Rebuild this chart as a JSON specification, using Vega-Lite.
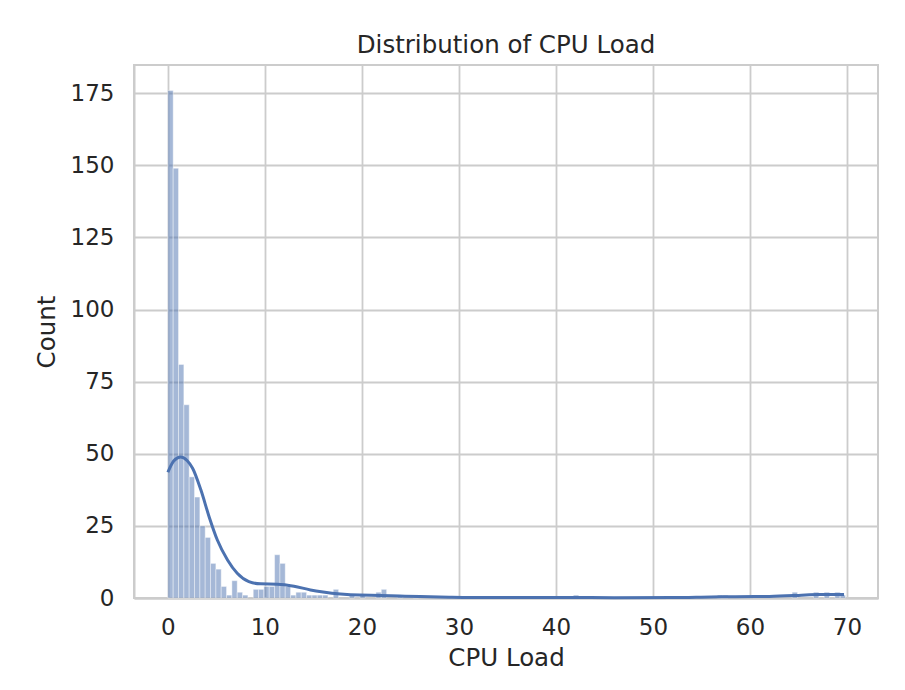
{
  "$schema": "https://vega.github.io/schema/vega-lite/v6.json",
  "width": 744,
  "height": 533,
  "autosize": {"type": "none"},
  "padding": {"left": 134, "top": 65, "right": 27, "bottom": 92},
  "background": "#ffffff",
  "title": {"text": "Distribution of CPU Load", "fontSize": 24.5, "font": "DejaVu Sans", "fontWeight": "normal", "color": "#262626", "offset": 7, "anchor": "middle"},
  "datasets": {
    "bins": [
      {"start": 0.0, "end": 0.55, "count": 176},
      {"start": 0.55, "end": 1.1, "count": 149},
      {"start": 1.1, "end": 1.65, "count": 81},
      {"start": 1.65, "end": 2.2, "count": 67},
      {"start": 2.2, "end": 2.75, "count": 42},
      {"start": 2.75, "end": 3.3, "count": 35},
      {"start": 3.3, "end": 3.85, "count": 25},
      {"start": 3.85, "end": 4.4, "count": 21},
      {"start": 4.4, "end": 4.95, "count": 12},
      {"start": 4.95, "end": 5.5, "count": 10},
      {"start": 5.5, "end": 6.05, "count": 4},
      {"start": 6.05, "end": 6.6, "count": 1},
      {"start": 6.6, "end": 7.15, "count": 6},
      {"start": 7.15, "end": 7.7, "count": 2},
      {"start": 7.7, "end": 8.25, "count": 1},
      {"start": 8.8, "end": 9.35, "count": 3},
      {"start": 9.35, "end": 9.9, "count": 3},
      {"start": 9.9, "end": 10.45, "count": 4},
      {"start": 10.45, "end": 11.0, "count": 4},
      {"start": 11.0, "end": 11.55, "count": 15},
      {"start": 11.55, "end": 12.1, "count": 12},
      {"start": 12.1, "end": 12.65, "count": 4},
      {"start": 12.65, "end": 13.2, "count": 1},
      {"start": 13.2, "end": 13.75, "count": 2},
      {"start": 13.75, "end": 14.3, "count": 2},
      {"start": 14.3, "end": 14.85, "count": 1},
      {"start": 14.85, "end": 15.4, "count": 1},
      {"start": 15.4, "end": 15.95, "count": 1},
      {"start": 15.95, "end": 16.5, "count": 1},
      {"start": 17.05, "end": 17.6, "count": 3},
      {"start": 18.7, "end": 19.25, "count": 1},
      {"start": 19.8, "end": 20.35, "count": 1},
      {"start": 21.45, "end": 22.0, "count": 2},
      {"start": 22.0, "end": 22.55, "count": 3},
      {"start": 23.65, "end": 24.2, "count": 1},
      {"start": 25.3, "end": 25.85, "count": 1},
      {"start": 41.8, "end": 42.35, "count": 1},
      {"start": 56.65, "end": 57.2, "count": 1},
      {"start": 57.2, "end": 57.75, "count": 1},
      {"start": 64.35, "end": 64.9, "count": 2},
      {"start": 66.55, "end": 67.1, "count": 2},
      {"start": 67.65, "end": 68.2, "count": 2},
      {"start": 68.75, "end": 69.3, "count": 2},
      {"start": 69.3, "end": 69.85, "count": 1}
    ],
    "kde": [
      {"load": 0.0, "density": 43.6},
      {"load": 0.6, "density": 47.5},
      {"load": 1.3, "density": 48.9},
      {"load": 2.0, "density": 47.6},
      {"load": 2.55, "density": 45.0},
      {"load": 3.4, "density": 37.5},
      {"load": 4.25, "density": 28.2},
      {"load": 5.1, "density": 20.1},
      {"load": 6.15, "density": 13.2},
      {"load": 7.15, "density": 8.6},
      {"load": 8.35, "density": 5.7},
      {"load": 9.55, "density": 4.9},
      {"load": 11.3, "density": 4.8},
      {"load": 13.0, "density": 4.1},
      {"load": 14.7, "density": 2.8},
      {"load": 16.0, "density": 2.1},
      {"load": 17.8, "density": 1.4},
      {"load": 19.8, "density": 1.0},
      {"load": 21.9, "density": 0.9},
      {"load": 23.9, "density": 0.7},
      {"load": 26.0, "density": 0.5},
      {"load": 29.0, "density": 0.3},
      {"load": 33.0, "density": 0.15},
      {"load": 38.0, "density": 0.15},
      {"load": 42.0, "density": 0.2},
      {"load": 46.0, "density": 0.1},
      {"load": 52.0, "density": 0.15},
      {"load": 56.0, "density": 0.35},
      {"load": 58.5, "density": 0.45},
      {"load": 62.0, "density": 0.55},
      {"load": 65.0, "density": 0.9},
      {"load": 67.0, "density": 1.2},
      {"load": 69.7, "density": 1.2}
    ]
  },
  "layer": [
    {
      "data": {"name": "bins"},
      "mark": {"type": "rect", "fill": "#4c72b0", "fillOpacity": 0.5, "stroke": "#ffffff", "strokeWidth": 0.7, "strokeOpacity": 0.6},
      "encoding": {
        "x": {"field": "start", "type": "quantitative", "scale": {"domain": [-3.49, 73.2], "nice": false, "zero": false},
              "axis": {"title": "CPU Load", "values": [0, 10, 20, 30, 40, 50, 60, 70], "format": "d"}},
        "x2": {"field": "end"},
        "y": {"field": "count", "type": "quantitative", "scale": {"domain": [0, 184.8], "nice": false},
              "axis": {"title": "Count", "values": [0, 25, 50, 75, 100, 125, 150, 175], "format": "d"}},
        "y2": {"datum": 0}
      }
    },
    {
      "data": {"name": "kde"},
      "mark": {"type": "line", "interpolate": "monotone", "color": "#4c72b0", "strokeWidth": 3},
      "encoding": {
        "x": {"field": "load", "type": "quantitative"},
        "y": {"field": "density", "type": "quantitative"}
      }
    }
  ],
  "config": {
    "font": "DejaVu Sans",
    "view": {"stroke": "#cccccc", "strokeWidth": 2},
    "axis": {
      "grid": true,
      "gridColor": "#cccccc",
      "gridWidth": 1.8,
      "domain": true,
      "domainColor": "#cccccc",
      "domainWidth": 2,
      "ticks": false,
      "labelFont": "DejaVu Sans",
      "labelFontSize": 23,
      "labelColor": "#262626",
      "titleFont": "DejaVu Sans",
      "titleFontSize": 24.5,
      "titleFontWeight": "normal",
      "titleColor": "#262626"
    },
    "axisX": {"labelPadding": 18, "titlePadding": 7},
    "axisY": {"labelPadding": 20, "titlePadding": 11}
  }
}
